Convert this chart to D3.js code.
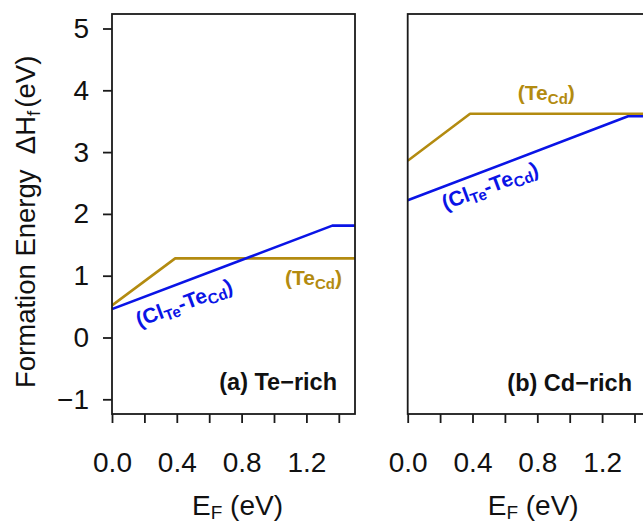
<!DOCTYPE html>
<html><head><meta charset="utf-8">
<script src="https://cdn.jsdelivr.net/npm/d3@7"></script>
<style>
html,body{margin:0;padding:0;background:#fff;overflow:hidden;}
text{font-family:"Liberation Sans",Arial,Helvetica,sans-serif;}
</style></head>
<body>
<svg id="c" width="643" height="525"></svg>
<script>
// ---- data ----
const xTicks = [0, 0.2, 0.4, 0.6, 0.8, 1.0, 1.2, 1.4];
const xTickLabels = [0.0, 0.4, 0.8, 1.2];
const yTicks = [-1, 0, 1, 2, 3, 4, 5];
const panels = ["(a) Te\u2212rich", "(b) Cd\u2212rich"];
// Te-rich
const teRich_TeCd_EF = [0, 0.39, 1.5];
const teRich_TeCd_H  = [0.52, 1.28, 1.28];
const teRich_ClTe_EF = [0, 1.36, 1.5];
const teRich_ClTe_H  = [0.46, 1.81, 1.81];
// Cd-rich
const cdRich_TeCd_EF = [0, 0.385, 1.5];
const cdRich_TeCd_H  = [2.86, 3.62, 3.62];
const cdRich_ClTe_EF = [0, 1.36, 1.5];
const cdRich_ClTe_H  = [2.22, 3.58, 3.58];

const gold = "#B38B10", blue = "#0A14E6";
const svg = d3.select("#c");

const yScale = d3.scaleLinear().domain([-1, 5]).range([399.3, 28.5]);
const yTop = 14, yBot = 414;
const panelDefs = [
  {x0: 112, label: panels[0],
   series: [{ef: teRich_TeCd_EF, h: teRich_TeCd_H, c: gold}, {ef: teRich_ClTe_EF, h: teRich_ClTe_H, c: blue}],
   goldLab: [1.068, 0.85], blueLab: [0.167, 0.167], panelLabX: 337, panelLabY: 390, yAxis: true},
  {x0: 407.7, label: panels[1],
   series: [{ef: cdRich_TeCd_EF, h: cdRich_TeCd_H, c: gold}, {ef: cdRich_ClTe_EF, h: cdRich_ClTe_H, c: blue}],
   goldLab: [0.68, 3.84], blueLab: [0.23, 2.06], panelLabX: 632, panelLabY: 391, yAxis: false}
];

panelDefs.forEach((p, i) => {
  const xScale = d3.scaleLinear().domain([0, 1.5]).range([p.x0, p.x0 + 243]);
  const g = svg.append("g");
  const cid = "clip" + i;
  svg.append("clipPath").attr("id", cid).append("rect")
    .attr("x", p.x0).attr("y", yTop).attr("width", 243).attr("height", yBot - yTop);

  // lines
  const line = d3.line().x(d => xScale(d[0])).y(d => yScale(d[1]));
  p.series.forEach(s => {
    g.append("path").attr("clip-path", `url(#${cid})`)
      .datum(s.ef.map((e, k) => [e, s.h[k]]))
      .attr("d", line).attr("fill", "none").attr("stroke", s.c)
      .attr("stroke-width", 2.6).attr("stroke-linejoin", "round");
  });

  // frame
  g.append("rect").attr("x", p.x0).attr("y", yTop).attr("width", 243).attr("height", yBot - yTop)
    .attr("fill", "none").attr("stroke", "#1a1a1a").attr("stroke-width", 1.8);

  // x axis
  const xAx = d3.axisBottom(xScale).tickValues(xTicks).tickSize(9).tickPadding(29)
    .tickFormat(d => xTickLabels.some(v => Math.abs(v - d) < 1e-9) ? d3.format(".1f")(d) : "");
  const xg = g.append("g").attr("transform", `translate(0,${yBot})`).call(xAx);
  xg.select(".domain").remove();
  xg.selectAll(".tick line").attr("stroke", "#1a1a1a").attr("stroke-width", 1.8);
  xg.selectAll(".tick text").attr("font-size", 28).attr("fill", "#111")
    .style("font-family", '"Liberation Sans",Arial,sans-serif');

  // x title
  const xt = g.append("text").attr("x", p.x0 + 80).attr("y", 515).attr("font-size", 28).attr("fill", "#111");
  xt.append("tspan").text("E");
  xt.append("tspan").text("F").attr("font-size", 19).attr("dy", 4);
  xt.append("tspan").text(" (eV)").attr("dy", -4);

  // y axis
  if (p.yAxis) {
    const yAx = d3.axisLeft(yScale).tickValues(yTicks).tickSize(9).tickPadding(14)
      .tickFormat(d3.format("d"));
    const yg = g.append("g").attr("transform", `translate(${p.x0},0)`).call(yAx);
    yg.select(".domain").remove();
    yg.selectAll(".tick line").attr("stroke", "#1a1a1a").attr("stroke-width", 1.8);
    yg.selectAll(".tick text").attr("font-size", 28).attr("fill", "#111")
      .style("font-family", '"Liberation Sans",Arial,sans-serif');
  }

  // gold label
  const gl = g.append("text").attr("x", xScale(p.goldLab[0])).attr("y", yScale(p.goldLab[1]))
    .attr("font-size", 21).attr("font-weight", "bold").attr("fill", gold);
  gl.append("tspan").text("(Te");
  gl.append("tspan").text("Cd").attr("font-size", 15).attr("dy", 4);
  gl.append("tspan").text(")").attr("dy", -4);

  // blue label
  const bx = xScale(p.blueLab[0]), by = yScale(p.blueLab[1]);
  const bl = g.append("text").attr("transform", `translate(${bx},${by}) rotate(-20.5)`)
    .attr("font-size", 21).attr("font-weight", "bold").attr("fill", blue);
  bl.append("tspan").text("(Cl");
  bl.append("tspan").text("Te").attr("font-size", 15).attr("dy", 4);
  bl.append("tspan").text("-Te").attr("dy", -4);
  bl.append("tspan").text("Cd").attr("font-size", 15).attr("dy", 4);
  bl.append("tspan").text(")").attr("dy", -4);

  // panel label
  g.append("text").attr("x", p.panelLabX).attr("y", p.panelLabY).attr("text-anchor", "end")
    .attr("font-size", 23.5).attr("font-weight", "bold").attr("fill", "#111").text(p.label);
});

// y title
const yt = svg.append("text").attr("transform", "translate(35,388) rotate(-90)")
  .attr("font-size", 27.5).attr("fill", "#111");
yt.append("tspan").text("Formation Energy \u00A0\u0394H");
yt.append("tspan").text("f").attr("font-size", 19).attr("dy", 5);
yt.append("tspan").text("(eV)").attr("dy", -5).attr("dx", 3);
</script>
</body></html>
